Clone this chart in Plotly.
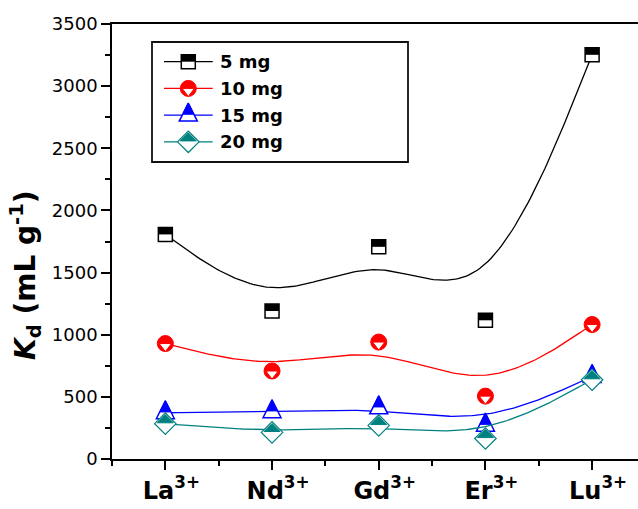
import numpy as np
import plotly.graph_objects as go

# ---- data -------------------------------------------------------------
ion_labels = ["La<sup>3+</sup>", "Nd<sup>3+</sup>", "Gd<sup>3+</sup>",
              "Er<sup>3+</sup>", "Lu<sup>3+</sup>"]
ion_pos = [1, 2, 3, 4, 5]
kd_5mg = [1807, 1191, 1707, 1116, 3252]
kd_10mg = [929, 708, 941, 506, 1082]
kd_15mg = [372, 380, 412, 272, 664]
kd_20mg = [284, 214, 270, 165, 638]
series_names = ["5 mg", "10 mg", "15 mg", "20 mg"]

# ---- geometry / style --------------------------------------------------
W, H = 638, 509
M_L, M_R, M_T, M_B = 112, 0, 24, 50
Y_MIN, Y_MAX = 0, 3500
X_MIN, X_MAX = 0.5, 5.43
PLOT_W = W - M_L - M_R
PLOT_H = H - M_T - M_B
UNITS_PER_PX = (Y_MAX - Y_MIN) / PLOT_H

BLACK = "#000000"
RED = "#ff0000"
BLUE = "#0000ff"
TEAL = "#008080"
BOLD_FONT = "DejaVu Sans"


def bspline(xs, ys, n=40):
    """Uniform cubic B-spline with tripled end points (Origin-style B-spline line)."""
    px = np.r_[xs[0], xs[0], xs, xs[-1], xs[-1]].astype(float)
    py = np.r_[ys[0], ys[0], ys, ys[-1], ys[-1]].astype(float)
    t = np.linspace(0, 1, n)
    b0 = (1 - t) ** 3 / 6
    b1 = (3 * t ** 3 - 6 * t ** 2 + 4) / 6
    b2 = (-3 * t ** 3 + 3 * t ** 2 + 3 * t + 1) / 6
    b3 = t ** 3 / 6
    cx, cy = [], []
    for i in range(len(px) - 3):
        cx.extend(b0 * px[i] + b1 * px[i + 1] + b2 * px[i + 2] + b3 * px[i + 3])
        cy.extend(b0 * py[i] + b1 * py[i + 1] + b2 * py[i + 2] + b3 * py[i + 3])
    return cx, cy


def add_half_symbol(fig, kind, xs, ys, color, up, xa="x", ya="y"):
    """Half-filled markers built from two stacked Plotly symbols.
    `up(px)` converts an upward pixel shift into y-axis units."""
    ys = np.asarray(ys, dtype=float)
    common = dict(mode="markers", xaxis=xa, yaxis=ya, hoverinfo="skip",
                  showlegend=False, cliponaxis=False)
    if kind == "square":
        fig.add_trace(go.Scatter(x=xs, y=ys, marker=dict(
            symbol="square", size=14, color="white",
            line=dict(color=color, width=1.5)), **common))
        fig.add_trace(go.Scatter(x=xs, y=ys + up(3.5), marker=dict(
            symbol="line-ew", size=10, color=color,
            line=dict(color=color, width=7)), **common))
    elif kind == "circle":
        fig.add_trace(go.Scatter(x=xs, y=ys, marker=dict(
            symbol="circle", size=16, color=color,
            line=dict(color=color, width=1)), **common))
        fig.add_trace(go.Scatter(x=xs, y=ys - up(2.7), marker=dict(
            symbol="triangle-down", size=10.7, color="white",
            line=dict(color=color, width=1)), **common))
    elif kind == "triangle":
        r = 9.0
        apex = up(4 * r / 3)
        fig.add_trace(go.Scatter(x=xs, y=ys + apex, marker=dict(
            symbol="arrow-up", size=2 * r, color="white",
            line=dict(color=color, width=1.5)), **common))
        fig.add_trace(go.Scatter(x=xs, y=ys + apex, marker=dict(
            symbol="arrow-up", size=2 * r * 0.62, color=color,
            line=dict(color=color, width=1)), **common))
    elif kind == "diamond":
        rd = 8.25
        fig.add_trace(go.Scatter(x=xs, y=ys, marker=dict(
            symbol="diamond", size=2 * rd, color="white",
            line=dict(color=color, width=1.2)), **common))
        # right-angle triangle turned so its hypotenuse lies on the centre line
        rt = 1.3 * rd / 1.697
        fig.add_trace(go.Scatter(x=xs, y=ys + up(0.566 * rt), marker=dict(
            symbol="triangle-ne", angle=-45, size=2 * rt, color=color,
            line=dict(color=color, width=1)), **common))


fig = go.Figure()

series = [
    (kd_5mg, BLACK, "square"),
    (kd_10mg, RED, "circle"),
    (kd_15mg, BLUE, "triangle"),
    (kd_20mg, TEAL, "diamond"),
]


def data_up(px):
    return px * UNITS_PER_PX


for vals, color, kind in series:
    cx, cy = bspline(ion_pos, vals)
    fig.add_trace(go.Scatter(x=cx, y=cy, mode="lines", hoverinfo="skip",
                             line=dict(color=color, width=1.3),
                             showlegend=False))
    add_half_symbol(fig, kind, ion_pos, vals, color, data_up)

# ---- legend, drawn in a pixel-space overlay ---------------------------
LEG_X0, LEG_X1, LEG_Y0, LEG_Y1 = 152, 408, 42, 162
LEG_ROW0, LEG_ROW_STEP = 61.7, 26.7
LEG_LINE = (164, 212.7)
LEG_MARK = 188.3
LEG_TEXT = 218


def pix_up(px):
    return -px


for i, ((vals, color, kind), name) in enumerate(zip(series, series_names)):
    ry = LEG_ROW0 + i * LEG_ROW_STEP
    fig.add_trace(go.Scatter(x=list(LEG_LINE), y=[ry, ry], mode="lines",
                             xaxis="x2", yaxis="y2", hoverinfo="skip",
                             line=dict(color=color, width=1.3),
                             showlegend=False))
    add_half_symbol(fig, kind, [LEG_MARK], [ry], color, pix_up, "x2", "y2")
    fig.add_annotation(x=LEG_TEXT, y=ry, xref="x2", yref="y2", text=name,
                       showarrow=False, xanchor="left", yanchor="middle",
                       font=dict(family=BOLD_FONT, size=18, color="black",
                                 weight="bold"))

fig.add_shape(type="rect", xref="x2", yref="y2", x0=LEG_X0, x1=LEG_X1,
              y0=LEG_Y0, y1=LEG_Y1, line=dict(color="#111111", width=1.8),
              fillcolor="white", layer="below")

# y-axis title, placed as a rotated annotation
TITLE_CX, TITLE_CY = 25, 275
fig.add_annotation(
    x=(TITLE_CX - M_L) / PLOT_W, y=(H - M_B - TITLE_CY) / PLOT_H,
    xref="paper", yref="paper", textangle=-90, showarrow=False,
    xanchor="center", yanchor="middle",
    text="<i>K</i><sub>d</sub> (mL g<sup>-1</sup>)",
    font=dict(family=BOLD_FONT, size=28, color="black", weight="bold"))

fig.update_layout(
    width=W, height=H,
    margin=dict(l=M_L, r=M_R, t=M_T, b=M_B),
    paper_bgcolor="white", plot_bgcolor="white",
    showlegend=False,
    xaxis=dict(
        range=[X_MIN, X_MAX], tickmode="array", tickvals=ion_pos,
        ticktext=ion_labels, ticks="outside", ticklen=9, tickwidth=1.5,
        tickcolor="black", showline=True, linewidth=1.5, linecolor="black",
        mirror=True, showgrid=False, zeroline=False, ticklabelshift=6,
        tickfont=dict(family=BOLD_FONT, size=24, color="black", weight="bold"),
        minor=dict(tick0=0.5, dtick=1, ticks="outside", ticklen=5,
                   tickwidth=1.5, tickcolor="black", showgrid=False),
    ),
    yaxis=dict(
        range=[Y_MIN, Y_MAX], tickmode="linear", tick0=0, dtick=500,
        ticks="outside", ticklen=9, tickwidth=1.5, tickcolor="black",
        showline=True, linewidth=1.5, linecolor="black", showgrid=False,
        zeroline=False,
        tickfont=dict(family="DejaVu Sans", size=18, color="black"),
        minor=dict(tick0=0, dtick=250, ticks="outside", ticklen=5,
                   tickwidth=1.5, tickcolor="black", showgrid=False),
    ),
    xaxis2=dict(range=[M_L, W - M_R], overlaying="x", visible=False,
                anchor="y2"),
    yaxis2=dict(range=[H - M_B, M_T], overlaying="y", visible=False,
                anchor="x2"),
)

fig.write_html("out.html")
